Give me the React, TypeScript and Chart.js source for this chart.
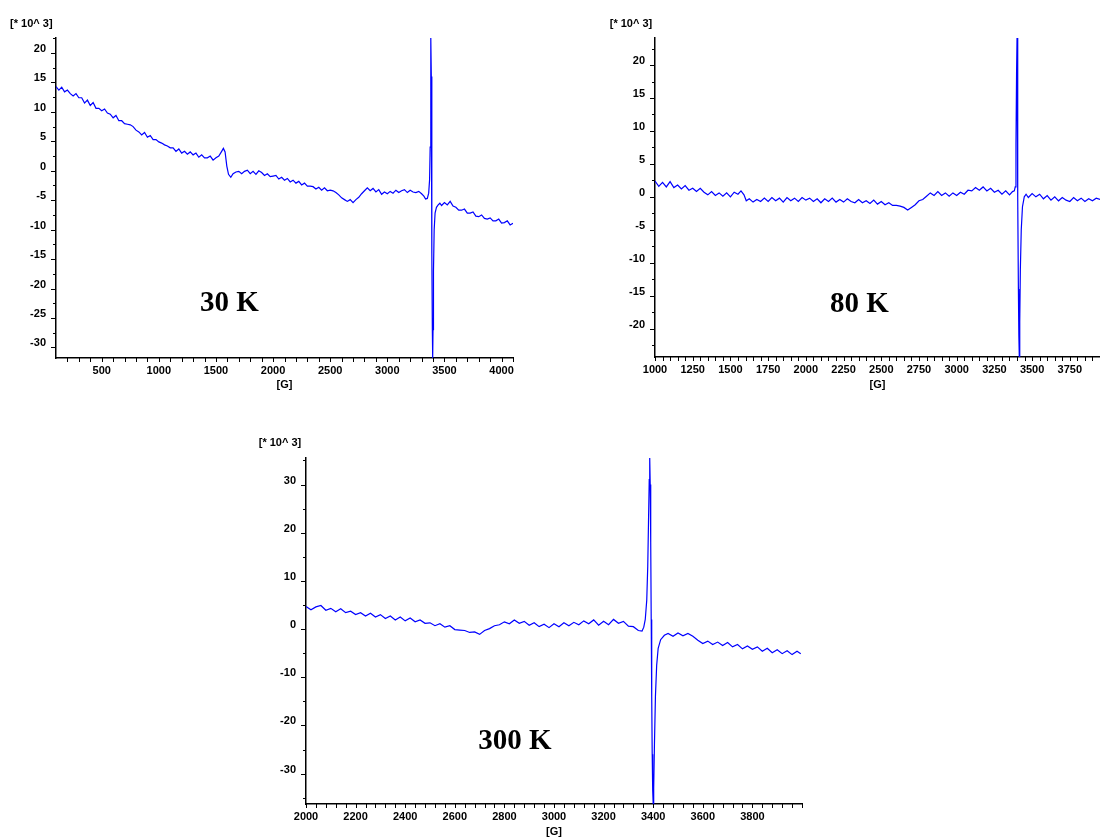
import { useEffect, useRef } from "react";
import { Chart, registerables } from "chart.js";

Chart.register(...registerables);

// ---------- data (values in units of 10^3, field in G) ----------
const trace30K: [number, number][] = [
  [100, 14.3], [125, 13.7], [150, 14.2], [175, 13.4], [200, 13.7], [225, 13.1], [250, 12.7], [275, 13.1],
  [300, 12.4], [325, 12.4], [350, 11.5], [375, 12.0], [400, 11.1], [425, 11.6], [450, 10.6], [475, 10.6],
  [500, 10.2], [525, 10.5], [550, 9.8], [575, 9.6], [600, 9.0], [625, 9.4], [650, 8.5], [675, 8.5],
  [700, 8.0], [725, 7.9], [750, 7.8], [775, 7.5], [800, 6.9], [825, 6.6], [850, 6.1], [875, 6.5],
  [900, 5.7], [925, 6.0], [950, 5.3], [975, 5.3], [1000, 4.9], [1025, 4.7], [1050, 4.4], [1075, 4.2],
  [1100, 3.9], [1125, 3.9], [1150, 3.3], [1175, 3.7], [1200, 3.0], [1225, 3.3], [1250, 2.8], [1275, 3.2],
  [1300, 2.7], [1325, 3.0], [1350, 2.3], [1375, 2.7], [1400, 2.2], [1425, 2.2], [1450, 2.5], [1475, 1.8],
  [1500, 2.2], [1525, 2.5], [1550, 3.3], [1565, 3.8], [1580, 3.2], [1595, 0.8], [1610, -0.6], [1630, -1.1],
  [1650, -0.5], [1675, -0.2], [1700, -0.1], [1725, -0.5], [1750, -0.1], [1775, 0.1], [1800, -0.5], [1825, -0.1],
  [1850, -0.6], [1875, 0.0], [1900, -0.3], [1925, -0.8], [1950, -0.5], [1975, -1.0], [2000, -0.9], [2025, -0.8],
  [2050, -1.4], [2075, -1.1], [2100, -1.6], [2125, -1.3], [2150, -1.9], [2175, -1.6], [2200, -2.1], [2225, -1.8],
  [2250, -2.4], [2275, -2.1], [2300, -2.6], [2325, -2.6], [2350, -2.7], [2375, -3.1], [2400, -2.8], [2425, -3.3],
  [2450, -2.9], [2475, -3.4], [2500, -3.3], [2525, -3.4], [2550, -3.7], [2575, -4.1], [2600, -4.6], [2625, -4.9],
  [2650, -5.2], [2675, -4.9], [2700, -5.4], [2725, -4.9], [2750, -4.5], [2775, -3.9], [2800, -3.4], [2825, -2.9],
  [2850, -3.4], [2875, -3.0], [2900, -3.6], [2925, -3.2], [2950, -4.0], [2975, -3.6], [3000, -3.9], [3025, -3.5],
  [3050, -3.8], [3075, -3.3], [3100, -3.7], [3125, -3.4], [3150, -3.2], [3175, -3.7], [3200, -3.3], [3225, -3.6],
  [3250, -3.7], [3275, -3.5], [3300, -3.9], [3320, -4.3], [3335, -4.8], [3350, -4.7], [3362, -3.8], [3370, -1.5],
  [3375, 4], [3379, 14], [3382, 22.55], [3385, 16], [3388, 2], [3391, -14], [3394, -27], [3397, -31.8],
  [3400, -27], [3404, -17], [3410, -10], [3418, -7.2], [3430, -6.2], [3445, -5.8], [3460, -5.5], [3475, -5.9],
  [3500, -5.4], [3525, -5.8], [3550, -5.2], [3575, -6.0], [3600, -6.2], [3625, -6.7], [3650, -6.7], [3675, -6.5],
  [3700, -7.2], [3725, -7.2], [3750, -7.0], [3775, -7.7], [3800, -7.8], [3825, -7.5], [3850, -8.1], [3875, -8.2],
  [3900, -8.0], [3925, -8.5], [3950, -8.5], [3975, -8.2], [4000, -8.9], [4025, -8.8], [4050, -8.5], [4075, -9.2],
  [4100, -8.9],
];

const trace80K: [number, number][] = [
  [1000, 2.4], [1025, 1.6], [1050, 2.2], [1075, 1.5], [1100, 2.3], [1125, 1.4], [1150, 1.8], [1175, 1.2],
  [1200, 1.7], [1225, 1.0], [1250, 1.3], [1275, 0.8], [1300, 1.3], [1325, 0.7], [1350, 0.3], [1375, 0.8],
  [1400, 0.2], [1425, 0.6], [1450, 0.1], [1475, 0.6], [1500, 0.0], [1525, 0.7], [1550, 0.4], [1570, 0.9],
  [1590, 0.3], [1605, -0.6], [1625, -0.3], [1650, -0.8], [1675, -0.4], [1700, -0.7], [1725, -0.2], [1750, -0.7],
  [1775, -0.1], [1800, -0.6], [1825, -0.2], [1850, -0.8], [1875, -0.1], [1900, -0.6], [1925, -0.2], [1950, -0.7],
  [1975, -0.1], [2000, -0.5], [2025, -0.2], [2050, -0.7], [2075, -0.3], [2100, -0.9], [2125, -0.3], [2150, -0.7],
  [2175, -0.2], [2200, -0.8], [2225, -0.4], [2250, -0.8], [2275, -0.3], [2300, -0.7], [2325, -0.9], [2350, -0.4],
  [2375, -0.9], [2400, -0.6], [2425, -1.0], [2450, -0.5], [2475, -1.1], [2500, -0.7], [2525, -1.2], [2550, -0.9],
  [2575, -1.3], [2600, -1.3], [2625, -1.4], [2650, -1.6], [2675, -2.0], [2700, -1.6], [2725, -1.2], [2750, -0.6],
  [2775, -0.4], [2800, 0.1], [2825, 0.6], [2850, 0.2], [2875, 0.8], [2900, 0.2], [2925, 0.6], [2950, 0.1],
  [2975, 0.6], [3000, 0.2], [3025, 0.7], [3050, 0.4], [3075, 1.0], [3100, 0.9], [3125, 1.4], [3150, 1.0],
  [3175, 1.5], [3200, 0.9], [3225, 1.3], [3250, 0.7], [3275, 1.0], [3300, 0.4], [3325, 0.9], [3350, 0.3],
  [3370, 0.8], [3382, 0.9], [3388, 1.5], [3393, 8], [3397, 19], [3400, 24.1], [3403, 16], [3406, 0],
  [3409, -14], [3412, -21], [3415, -24.3], [3418, -19], [3422, -11], [3428, -5], [3436, -1.5], [3448, 0.0],
  [3460, 0.4], [3475, -0.1], [3500, 0.5], [3525, 0.0], [3550, 0.4], [3575, -0.3], [3600, 0.2], [3625, -0.5],
  [3650, 0.0], [3675, -0.6], [3700, -0.1], [3725, -0.5], [3750, -0.7], [3775, -0.1], [3800, -0.6], [3825, -0.2],
  [3850, -0.7], [3875, -0.3], [3900, -0.6], [3925, -0.2], [3950, -0.4],
];

const trace300K: [number, number][] = [
  [2000, 4.7], [2020, 4.0], [2040, 4.6], [2060, 4.9], [2080, 3.9], [2100, 4.3], [2120, 3.6], [2140, 4.2],
  [2160, 3.4], [2180, 3.7], [2200, 3.0], [2220, 3.4], [2240, 2.7], [2260, 3.3], [2280, 2.5], [2300, 3.0],
  [2320, 2.2], [2340, 2.7], [2360, 1.9], [2380, 2.5], [2400, 1.7], [2420, 2.3], [2440, 1.5], [2460, 1.9],
  [2480, 1.2], [2500, 1.3], [2520, 0.7], [2540, 1.1], [2560, 0.4], [2580, 0.7], [2600, -0.1], [2620, -0.2],
  [2640, -0.3], [2660, -0.7], [2680, -0.6], [2700, -1.1], [2720, -0.3], [2740, 0.1], [2760, 0.7], [2780, 0.9],
  [2800, 1.5], [2820, 1.1], [2840, 1.9], [2860, 1.2], [2880, 1.6], [2900, 0.8], [2920, 1.3], [2940, 0.5],
  [2960, 1.0], [2980, 0.3], [3000, 1.1], [3020, 0.5], [3040, 1.3], [3060, 0.7], [3080, 1.4], [3100, 0.9],
  [3120, 1.7], [3140, 1.1], [3160, 1.9], [3180, 0.8], [3200, 1.6], [3220, 0.9], [3240, 2.0], [3260, 1.2],
  [3280, 1.6], [3300, 0.6], [3320, 0.5], [3340, -0.3], [3355, -0.4], [3362, 0.4], [3368, 2], [3374, 6],
  [3378, 13], [3381, 22], [3384, 31], [3386, 35.5], [3388, 30], [3390, 18], [3392, 2], [3394, -14],
  [3396, -26], [3398, -33.5], [3400, -36.3], [3402, -33], [3405, -24], [3409, -14], [3414, -7.5], [3420, -4.0],
  [3430, -2.2], [3445, -1.3], [3460, -0.9], [3480, -1.5], [3500, -0.8], [3520, -1.4], [3540, -0.9], [3560, -1.5],
  [3580, -2.3], [3600, -3.0], [3620, -2.5], [3640, -3.2], [3660, -2.7], [3680, -3.4], [3700, -2.8], [3720, -3.7],
  [3740, -3.2], [3760, -4.1], [3780, -3.5], [3800, -4.2], [3820, -3.7], [3840, -4.6], [3860, -4.0], [3880, -4.9],
  [3900, -4.3], [3920, -5.1], [3940, -4.5], [3960, -5.3], [3980, -4.6], [3995, -5.1],
];

// ---------- tick labels ----------
const xTicks30K = [500, 1000, 1500, 2000, 2500, 3000, 3500, 4000];
const yTicks30K = [20, 15, 10, 5, 0, -5, -10, -15, -20, -25, -30];
const xTicks80K = [1000, 1250, 1500, 1750, 2000, 2250, 2500, 2750, 3000, 3250, 3500, 3750];
const yTicks80K = [20, 15, 10, 5, 0, -5, -10, -15, -20];
const xTicks300K = [2000, 2200, 2400, 2600, 2800, 3000, 3200, 3400, 3600, 3800];
const yTicks300K = [30, 20, 10, 0, -10, -20, -30];

const temperatureLabels = ["30 K", "80 K", "300 K"];
const unitLabel = "[* 10^ 3]";
const fieldLabel = "[G]";

type Panel = {
  data: [number, number][];
  xMin: number; xMax: number; yMin: number; yMax: number;
  xTicks: number[]; yTicks: number[];
  xMinorStart: number; xMinorStep: number;
  yMinorStart: number; yMinorStep: number; yMajorStep: number;
  left: number; top: number; width: number; height: number;
  padTop: number; padRight: number; yAxisW: number; xAxisH: number;
  label: string; labelPos: [number, number]; unitPos: [number, number]; gPos: [number, number];
};

const panels: Panel[] = [
  {
    data: trace30K, xMin: 100, xMax: 4100, yMin: -31.8, yMax: 22.55,
    xTicks: xTicks30K, yTicks: yTicks30K,
    xMinorStart: 200, xMinorStep: 100, yMinorStart: 22.5, yMinorStep: 2.5, yMajorStep: 5,
    left: 0, top: 0, width: 530, height: 400, padTop: 38, padRight: 17, yAxisW: 56, xAxisH: 42,
    label: temperatureLabels[0], labelPos: [229.5, 300.5], unitPos: [31.3, 23.3], gPos: [284.5, 384],
  },
  {
    data: trace80K, xMin: 1000, xMax: 3950, yMin: -24.3, yMax: 24.1,
    xTicks: xTicks80K, yTicks: yTicks80K,
    xMinorStart: 1000, xMinorStep: 50, yMinorStart: 22.5, yMinorStep: 2.5, yMajorStep: 5,
    left: 600, top: 0, width: 500, height: 400, padTop: 38, padRight: 0, yAxisW: 55, xAxisH: 43,
    label: temperatureLabels[1], labelPos: [859.5, 301.5], unitPos: [631, 23], gPos: [877.5, 384],
  },
  {
    data: trace300K, xMin: 2000, xMax: 4000, yMin: -36.3, yMax: 35.5,
    xTicks: xTicks300K, yTicks: yTicks300K,
    xMinorStart: 2000, xMinorStep: 40, yMinorStart: 35, yMinorStep: 5, yMajorStep: 10,
    left: 250, top: 420, width: 560, height: 418, padTop: 38, padRight: 8, yAxisW: 56, xAxisH: 34,
    label: temperatureLabels[2], labelPos: [515, 738.5], unitPos: [280, 441.7], gPos: [554, 831],
  },
];

const minorTickPlugin = {
  id: "minorTicks",
  afterDraw(chart: any, _args: any, opts: any) {
    const { ctx, chartArea } = chart;
    const xs = chart.scales.x;
    const ys = chart.scales.y;
    ctx.save();
    ctx.strokeStyle = "#000";
    ctx.lineWidth = 1;
    ctx.beginPath();
    for (let v = opts.xStart; v <= xs.max + 1e-6; v += opts.xStep) {
      const px = Math.round(xs.getPixelForValue(v)) + 0.5;
      ctx.moveTo(px, chartArea.bottom);
      ctx.lineTo(px, chartArea.bottom + 4);
    }
    for (let v = opts.yStart; v >= ys.min - 1e-6; v -= opts.yStep) {
      const r = v / opts.yMajor;
      const major = Math.abs(r - Math.round(r)) < 1e-6;
      const py = Math.round(ys.getPixelForValue(v)) + 0.5;
      ctx.moveTo(chartArea.left, py);
      ctx.lineTo(chartArea.left - (major ? 5 : 3), py);
    }
    ctx.stroke();
    ctx.restore();
  },
};

const tickFont = { family: "'Liberation Sans', Arial, sans-serif", size: 11, weight: "bold" as const };

function PanelChart({ p }: { p: Panel }) {
  const ref = useRef<HTMLCanvasElement | null>(null);
  useEffect(() => {
    if (!ref.current) return;
    const chart = new Chart(ref.current, {
      type: "line",
      data: {
        datasets: [
          {
            data: p.data.map(([x, y]) => ({ x, y })),
            borderColor: "#0000ff",
            borderWidth: 1.2,
            pointRadius: 0,
            tension: 0,
            fill: false,
          },
        ],
      },
      options: {
        animation: false,
        responsive: false,
        events: [],
        layout: { padding: { top: p.padTop, right: p.padRight, left: 0, bottom: 0 } },
        plugins: {
          legend: { display: false },
          tooltip: { enabled: false },
          minorTicks: {
            xStart: p.xMinorStart, xStep: p.xMinorStep,
            yStart: p.yMinorStart, yStep: p.yMinorStep, yMajor: p.yMajorStep,
          },
        } as any,
        scales: {
          x: {
            type: "linear",
            min: p.xMin,
            max: p.xMax,
            afterBuildTicks: (s: any) => { s.ticks = p.xTicks.map((value) => ({ value })); },
            afterFit: (s: any) => { s.height = p.xAxisH; },
            ticks: {
              color: "#000",
              font: tickFont,
              padding: 6,
              maxRotation: 0,
              autoSkip: false,
              callback: (v: any) => String(v),
            },
            grid: { display: false, drawTicks: false },
            border: { display: true, color: "#000", width: 1.5 },
          },
          y: {
            type: "linear",
            min: p.yMin,
            max: p.yMax,
            afterBuildTicks: (s: any) => { s.ticks = p.yTicks.map((value) => ({ value })); },
            afterFit: (s: any) => { s.width = p.yAxisW; },
            ticks: {
              color: "#000",
              font: tickFont,
              padding: 10,
              labelOffset: -4,
              autoSkip: false,
              callback: (v: any) => String(v),
            },
            grid: { display: false, drawTicks: false },
            border: { display: true, color: "#000", width: 1.5 },
          },
        },
      },
      plugins: [minorTickPlugin as any],
    });
    return () => chart.destroy();
  }, [p]);
  return (
    <canvas
      ref={ref}
      width={p.width}
      height={p.height}
      style={{ position: "absolute", left: p.left, top: p.top, width: p.width, height: p.height }}
    />
  );
}

const smallText: React.CSSProperties = {
  position: "absolute",
  transform: "translate(-50%, -50%)",
  fontFamily: "'Liberation Sans', Arial, sans-serif",
  fontWeight: "bold",
  fontSize: 11,
  lineHeight: 1,
  whiteSpace: "nowrap",
  color: "#000",
};

const bigText: React.CSSProperties = {
  position: "absolute",
  transform: "translate(-50%, -50%)",
  fontFamily: "'Liberation Serif', 'Times New Roman', serif",
  fontWeight: "bold",
  fontSize: 29,
  lineHeight: 1,
  whiteSpace: "nowrap",
  color: "#000",
};

export default function App() {
  return (
    <div
      style={{
        position: "fixed",
        left: 0,
        top: 0,
        width: 1100,
        height: 838,
        overflow: "hidden",
        background: "#fff",
      }}
    >
      {panels.map((p, i) => (
        <PanelChart key={i} p={p} />
      ))}
      {panels.map((p, i) => (
        <div key={"u" + i} style={{ ...smallText, left: p.unitPos[0], top: p.unitPos[1] }}>{unitLabel}</div>
      ))}
      {panels.map((p, i) => (
        <div key={"g" + i} style={{ ...smallText, left: p.gPos[0], top: p.gPos[1] }}>{fieldLabel}</div>
      ))}
      {panels.map((p, i) => (
        <div key={"t" + i} style={{ ...bigText, left: p.labelPos[0], top: p.labelPos[1] }}>{p.label}</div>
      ))}
    </div>
  );
}
